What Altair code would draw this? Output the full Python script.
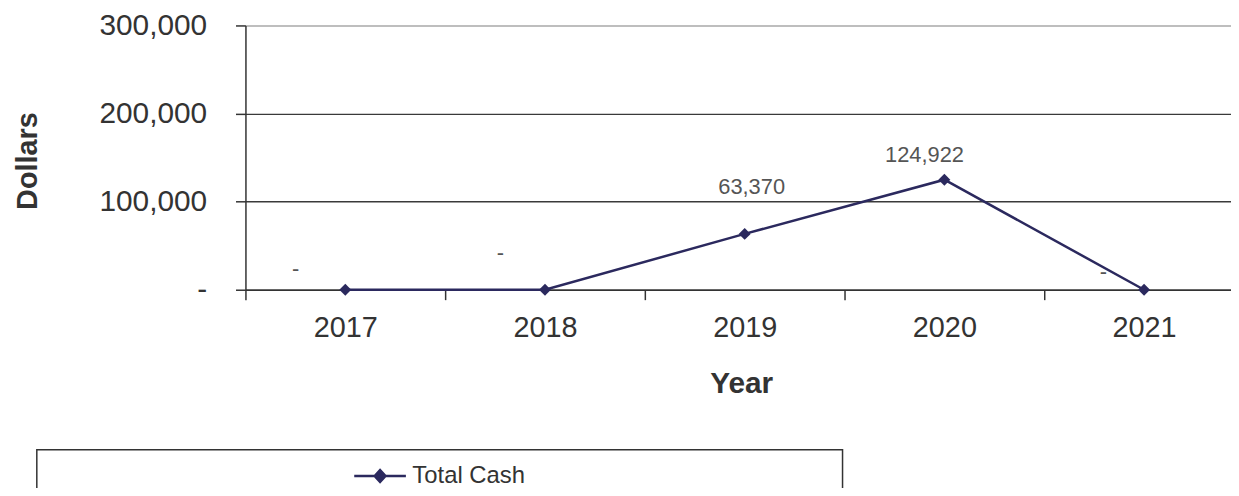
import altair as alt
import pandas as pd

# ---- data ----
years = ["2017", "2018", "2019", "2020", "2021"]
total_cash = [0, 0, 63370, 124922, 0]
series_name = ["Total Cash"] * 5
y_ticks = [0, 100000, 200000, 300000]

df = pd.DataFrame({"Year": years, "Cash": total_cash, "Series": series_name})

NAVY = "#2B295E"
FONT = "Liberation Sans"
TXT = "#333333"

x_scale = alt.Scale(type="band", range=[0, 1005], paddingInner=0, paddingOuter=0)
y_scale = alt.Scale(domain=[0, 300000])

x_axis = alt.Axis(
    title="Year", tickBand="extent", tickSize=10, tickColor=TXT, tickWidth=1.5,
    domainColor=TXT, domainWidth=1.5, labelFontSize=29, labelColor=TXT,
    labelBaseline="alphabetic", labelPadding=37, labelAngle=0,
    titleFontSize=30, titleFontWeight="bold", titleColor=TXT,
    titleBaseline="alphabetic", titleX=499, titleY=103, grid=False,
)
y_axis = alt.Axis(
    title="Dollars", values=y_ticks,
    labelExpr="datum.value == 0 ? '-' : format(datum.value, ',')",
    labelFontSize=30, labelColor=TXT, labelPadding=29,
    tickSize=10, tickColor=TXT, tickWidth=1.5,
    domainColor=TXT, domainWidth=1.5,
    grid=True,
    gridColor={"condition": {"test": "datum.value >= 300000", "value": "#a8a8a8"}, "value": "#3a3a3a"},
    gridWidth=1.5,
    titleFontSize=29, titleFontWeight="bold", titleColor=TXT,
    titleX=-219, titleY=136, titleBaseline="middle", titleAlign="center",
)

X = alt.X("Year:O", bandPosition=0.5, scale=x_scale, axis=x_axis)
Y = alt.Y("Cash:Q", scale=y_scale, axis=y_axis)
Xn = alt.X("Year:O", bandPosition=0.5, scale=x_scale)
Yn = alt.Y("Cash:Q", scale=y_scale)

legend = alt.Legend(
    orient="none", legendX=-210, legendY=427, padding=12,
    fillColor="white",
    symbolType="M-2,0L2,0M-0.42,0L0,-0.46L0.42,0L0,0.46Z",
    symbolSize=676, symbolStrokeWidth=2.5, symbolOffset=319,
    symbolFillColor=NAVY, symbolStrokeColor=NAVY, symbolOpacity=1,
    labelOffset=18, labelFontSize=24, labelColor=TXT, labelFont=FONT,
    # invisible spacer title that widens the legend frame to the reference's box
    title="x" * 25, titleOrient="right", titleLimit=1000, titleOpacity=0,
    titleFontSize=24, titleFontWeight="normal", titlePadding=8,
)

base = alt.Chart(df)

color = alt.Color("Series:N", scale=alt.Scale(range=[NAVY]), legend=legend)

line = base.mark_line(strokeWidth=2.5).encode(x=X, y=Y, color=color)
points = base.mark_point(shape="diamond", size=144, filled=True, opacity=1).encode(
    x=Xn, y=Yn, color=color
)

offsets = {"2017": (-50, -14), "2018": (-45, -30), "2019": (7, -40), "2020": (-20, -18), "2021": (-41, -11)}
texts = []
for yr, (dx, dy) in offsets.items():
    texts.append(
        base.transform_filter(alt.datum.Year == yr)
        .transform_calculate(label="datum.Cash == 0 ? '-' : format(datum.Cash, ',')")
        .mark_text(dx=dx, dy=dy, fontSize=22, color="#555555", baseline="alphabetic",
                   align="center", font=FONT)
        .encode(x=Xn, y=Yn, text="label:N")
    )

chart = (
    alt.layer(line, points, *texts)
    .properties(
        width=992, height=266,
        autosize=alt.AutoSizeParams(type="none"),
        padding={"left": 239, "top": 16, "right": 0, "bottom": 198},
        background="white",
    )
    .configure(font=FONT)
    .configure_view(strokeWidth=0)
    .configure_legend(strokeColor=TXT, strokeWidth=1.5)
)

chart.save("out.html", embed_options={"renderer": "svg", "actions": False})
